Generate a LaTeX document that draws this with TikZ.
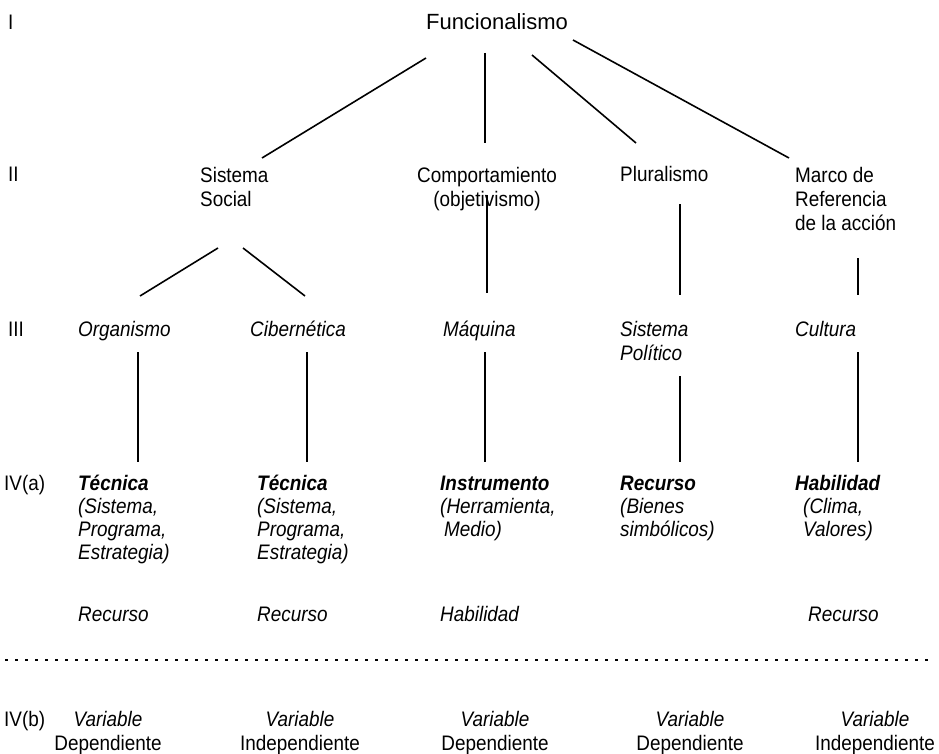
\documentclass[tikz,border=0pt]{standalone}
\usepackage{fontspec}
\setmainfont{Liberation Sans}[FakeStretch=0.9]
\newfontfamily\funcfont{Liberation Sans}
\begin{document}
\begin{tikzpicture}[x=1pt,y=-1pt,
  t/.style={anchor=base west, inner sep=0pt, align=left, font=\fontsize{21}{24}\selectfont},
  ti/.style={t, font=\fontsize{21}{24}\selectfont\itshape},
  tiv/.style={t, font=\fontsize{21}{23}\selectfont\itshape},
  tc/.style={anchor=base, inner sep=0pt, align=center, font=\fontsize{21}{24}\selectfont},
  ln/.style={line width=1.6pt, black},
  vl/.style={line width=1.2pt, black},
  dotl/.style={line width=1.3pt, dash pattern=on 3pt off 7pt}]
\useasboundingbox (0,0) rectangle (939,754);
\fill[white] (0,0) rectangle (939,754);
% level labels
\node[t] (lI) at (8,30) {I};
\node[t] (lII) at (8,182) {II};
\node[t] (lIII) at (8,336) {III};
\node[t] (lIVa) at (4,490) {IV(a)};
\node[t] (lIVb) at (4,726) {IV(b)};
% level I
\node[anchor=base, inner sep=0pt, font=\funcfont\fontsize{22}{26}\selectfont] (func) at (497,30) {Funcionalismo};
% level II (multi-line nodes: base = last line)
\node[t] (sis) at (200,206) {Sistema\\Social};
\node[tc] (comp) at (487,206) {Comportamiento\\(objetivismo)};
\node[t] (plu) at (620,182) {Pluralismo};
\node[t] (marco) at (795,230) {Marco de\\Referencia\\de la acción};
% level III
\node[ti] (org) at (78,336) {Organismo};
\node[ti] (cib) at (250,336) {Cibernética};
\node[ti] (maq) at (443,336) {Máquina};
\node[ti] (pol) at (620,360) {Sistema\\Político};
\node[ti] (cul) at (795,336) {Cultura};
% level IV(a)
\node[tiv] (tec1) at (78,559) {\textbf{Técnica}\\(Sistema,\\Programa,\\Estrategia)};
\node[tiv] (tec2) at (257,559) {\textbf{Técnica}\\(Sistema,\\Programa,\\Estrategia)};
\node[tiv] (ins) at (440,536) {\textbf{Instrumento}\\(Herramienta,\\\hspace*{4pt}Medio)};
\node[tiv] (rec) at (620,536) {\textbf{Recurso}\\(Bienes\\simbólicos)};
\node[tiv] (hab) at (795,536) {\textbf{Habilidad}\\\hspace*{8pt}(Clima,\\\hspace*{8pt}Valores)};
% secondary row
\node[ti] (r1) at (78,621) {Recurso};
\node[ti] (r2) at (257,621) {Recurso};
\node[ti] (r3) at (440,621) {Habilidad};
\node[ti] (r5) at (808,621) {Recurso};
% IV(b)
\node[tc] (v1) at (108,750) {\textit{Variable}\\Dependiente};
\node[tc] (v2) at (300,750) {\textit{Variable}\\Independiente};
\node[tc] (v3) at (495,750) {\textit{Variable}\\Dependiente};
\node[tc] (v4) at (690,750) {\textit{Variable}\\Dependiente};
\node[tc] (v5) at (875,750) {\textit{Variable}\\Independiente};
% connector end points
\coordinate (f1) at (426,58);  \coordinate (s1) at (262,158);
\coordinate (f2) at (485,53);  \coordinate (c2) at (485,143);
\coordinate (f3) at (532,55);  \coordinate (p3) at (636,143);
\coordinate (f4) at (573,40);  \coordinate (m4) at (789,158);
\coordinate (sa) at (218,248); \coordinate (oa) at (140,296);
\coordinate (sb) at (243,248); \coordinate (cb) at (305,296);
\coordinate (ca) at (487,195); \coordinate (ma) at (487,293);
\coordinate (pa) at (680,204); \coordinate (pb) at (680,295);
\coordinate (ka) at (858,258); \coordinate (kb) at (858,295);
\coordinate (o1) at (138,352); \coordinate (o2) at (138,462);
\coordinate (b1) at (307,352); \coordinate (b2) at (307,462);
\coordinate (q1) at (485,352); \coordinate (q2) at (485,462);
\coordinate (y1) at (680,376); \coordinate (y2) at (680,462);
\coordinate (u1) at (858,352); \coordinate (u2) at (858,462);
\coordinate (dl) at (5,660);   \coordinate (dr) at (932,660);
% connectors
\draw[ln] (f1) -- (s1);
\draw[vl] (f2) -- (c2);
\draw[ln] (f3) -- (p3);
\draw[ln] (f4) -- (m4);
\draw[ln] (sa) -- (oa);
\draw[ln] (sb) -- (cb);
\draw[vl] (ca) -- (ma);
\draw[vl] (pa) -- (pb);
\draw[vl] (ka) -- (kb);
\draw[vl] (o1) -- (o2);
\draw[vl] (b1) -- (b2);
\draw[vl] (q1) -- (q2);
\draw[vl] (y1) -- (y2);
\draw[vl] (u1) -- (u2);
\draw[dotl] (dl) -- (dr);
\end{tikzpicture}
\end{document}
